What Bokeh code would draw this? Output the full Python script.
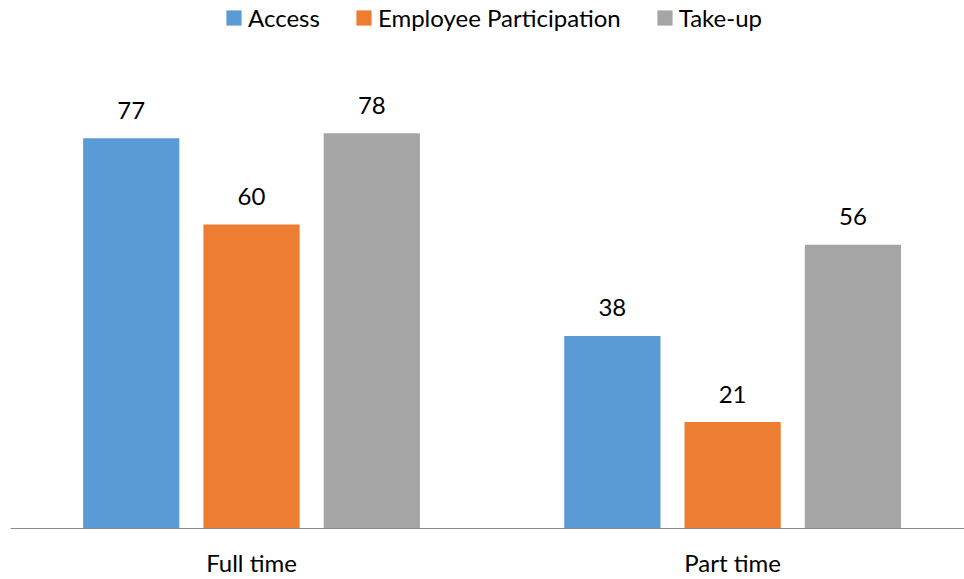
from bokeh.plotting import figure
from bokeh.models import ColumnDataSource, Range1d, FixedTicker, Legend, LegendItem
from bokeh.transform import dodge
from bokeh.core.properties import value
from bokeh.embed import file_html
from bokeh.resources import INLINE

categories = ["Full time", "Part time"]
series_names = ["Access", "Employee Participation", "Take-up"]
access = [77, 38]
participation = [60, 21]
takeup = [78, 56]
colors = ["#5B9BD5", "#ED7D31", "#A5A5A5"]

FONT = "Lato"
FS = "24px"
src = ColumnDataSource(dict(
    x=list(range(len(categories))),
    access=access, participation=participation, takeup=takeup,
    access_t=[str(v) for v in access],
    participation_t=[str(v) for v in participation],
    takeup_t=[str(v) for v in takeup],
))

p = figure(width=964, height=579, output_backend="svg", toolbar_location=None,
           x_range=Range1d(-0.501, 1.482), y_range=Range1d(0, 104.2),
           min_border_left=10, min_border_right=0, min_border_top=0, min_border_bottom=50)
p.outline_line_color = None
p.xgrid.visible = False
p.ygrid.visible = False
p.yaxis.visible = False

fields = ["access", "participation", "takeup"]
offsets = [-0.25, 0.0, 0.25]
renderers = []
for f, off, c in zip(fields, offsets, colors):
    r = p.vbar(x=dodge("x", off), top=f, width=0.2, source=src,
               fill_color=c, line_color=None)
    renderers.append(r)
    p.text(x=dodge("x", off), y=f, text=f + "_t", source=src,
           text_align="center", text_baseline="alphabetic", y_offset=-28,
           text_font=value(FONT), text_font_size=FS, text_color="#000000")

ax = p.xaxis[0]
ax.ticker = FixedTicker(ticks=list(range(len(categories))))
ax.major_label_overrides = {i: c for i, c in enumerate(categories)}
ax.major_tick_in = 0
ax.major_tick_out = 0
ax.minor_tick_in = 0
ax.minor_tick_out = 0
ax.axis_line_color = "#8C8C8C"
ax.axis_line_width = 1.2
ax.major_label_standoff = 19
ax.major_label_text_font = FONT
ax.major_label_text_font_size = FS
ax.major_label_text_color = "#000000"

legend = Legend(items=[LegendItem(label=n, renderers=[r]) for n, r in zip(series_names, renderers)],
                orientation="horizontal", location=(214, 496),
                glyph_width=19, glyph_height=19, label_standoff=5, spacing=34,
                padding=0, margin=0, border_line_color=None, background_fill_alpha=0,
                label_text_font=FONT, label_text_font_size=FS, label_text_color="#000000")
p.add_layout(legend, "center")

open("out.html", "w").write(file_html(p, INLINE))
